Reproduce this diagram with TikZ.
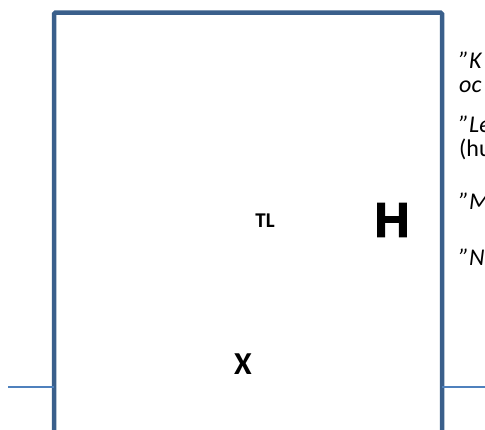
\documentclass[tikz,border=0pt]{standalone}
\usepackage{fontspec}
\setmainfont{Carlito}
\newfontfamily\heavyfont[BoldFeatures={FakeBold=2}]{Liberation Sans}
\definecolor{boxblue}{RGB}{58,95,139}
\definecolor{lineblue}{RGB}{79,129,189}
\begin{document}
\begin{tikzpicture}[x=1pt,y=-1pt,
  side/.style={anchor=base west,inner sep=0pt,font=\fontsize{24}{24}\itshape},
  sideup/.style={anchor=base west,inner sep=0pt,font=\fontsize{24}{24}\upshape},
  big/.style={inner sep=0pt,font=\bfseries}]
\useasboundingbox (0,0) rectangle (485,429);
\clip (0,0) rectangle (485,429);
\draw[boxblue,line width=4.5pt,rounded corners=1.5pt] (54,12.5) -- (442,12.5) -- (442,445) -- (54,445) -- cycle;
\coordinate (bl) at (54,387);
\coordinate (br) at (442,387);
\coordinate (el) at (8,387);
\coordinate (er) at (490,387);
\draw[lineblue,line width=1.5pt] (el) -- (bl);
\draw[lineblue,line width=1.5pt] (br) -- (er);
\node[big,font=\fontsize{49}{49}\heavyfont\bfseries] (h) at (392,220) {H};
\node[big,font=\fontsize{21}{21}\bfseries] (tl) at (265,221) {TL};
\node[big,font=\fontsize{32}{32}\bfseries] (x) at (243,364) {X};
\node[side] (k) at (459,68) {”K};
\node[side] (oc) at (459,92) {oc};
\node[side] (l) at (459,132) {”Le};
\node[sideup] (hu) at (459,156) {(hu};
\node[side] (m) at (459,209) {”M};
\node[side] (n) at (459,265) {”N};
\end{tikzpicture}
\end{document}
